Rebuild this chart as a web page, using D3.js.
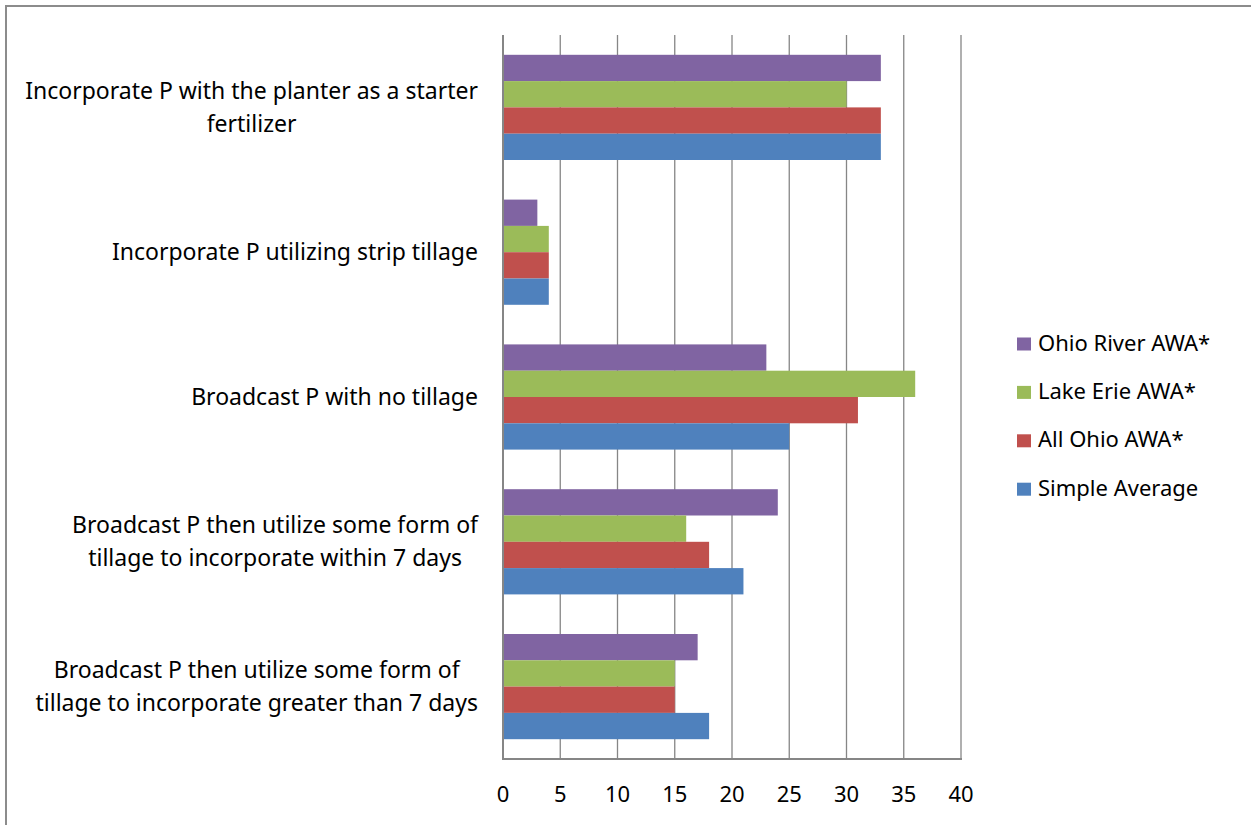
<!DOCTYPE html>
<html>
<head>
<meta charset="utf-8">
<script src="https://cdn.jsdelivr.net/npm/d3@7"></script>
<style>
  html, body { margin: 0; padding: 0; background: #ffffff; }
  svg { display: block; }
</style>
</head>
<body>
<svg id="chart" width="1251" height="825"></svg>
<script>
// categories, top to bottom; each label split into its wrapped lines
const categories = [
  ["Incorporate P with the planter as a starter", "fertilizer"],
  ["Incorporate P utilizing strip tillage"],
  ["Broadcast P with no tillage"],
  ["Broadcast P then utilize some form of", "tillage to incorporate within 7 days"],
  ["Broadcast P then utilize some form of", "tillage to incorporate greater than 7 days"]
];

// series, in the order their bars stack from top to bottom within a category
const seriesNames = ["Ohio River AWA*", "Lake Erie AWA*", "All Ohio AWA*", "Simple Average"];
const seriesColors = ["#8064A2", "#9BBB59", "#C0504D", "#4F81BD"];

const ohioRiver = [33, 3, 23, 24, 17];
const lakeErie = [30, 4, 36, 16, 15];
const allOhio = [33, 4, 31, 18, 15];
const simpleAverage = [33, 4, 25, 21, 18];

const xTicks = [0, 5, 10, 15, 20, 25, 30, 35, 40];

const seriesValues = [ohioRiver, lakeErie, allOhio, simpleAverage];
const FONT = "'Noto Sans', 'Open Sans', sans-serif";

const svg = d3.select("#chart");

// outer chart border (only top and left edges fall inside the picture)
svg.append("rect")
  .attr("x", 6).attr("y", 6)
  .attr("width", 1260).attr("height", 840)
  .attr("fill", "none")
  .attr("stroke", "#8c8c8c")
  .attr("stroke-width", 2);

const plot = { left: 503, right: 961, top: 35, bottom: 759 };

const x = d3.scaleLinear().domain([0, 40]).range([plot.left, plot.right]);

const y = d3.scaleBand()
  .domain(d3.range(categories.length))
  .range([plot.top, plot.bottom])
  .padding(0);

const ySeries = d3.scaleBand()
  .domain(d3.range(seriesNames.length))
  .range([0, y.bandwidth()])
  .paddingInner(0)
  .paddingOuter(0.753);

// vertical gridlines
svg.append("g")
  .selectAll("line")
  .data(xTicks.slice(1))
  .join("line")
  .attr("x1", d => x(d)).attr("x2", d => x(d))
  .attr("y1", plot.top).attr("y2", plot.bottom)
  .attr("stroke", "#868686")
  .attr("stroke-width", 1.3);

// bars
const rows = svg.append("g")
  .selectAll("g")
  .data(categories)
  .join("g")
  .attr("transform", (d, i) => `translate(0,${y(i)})`);

rows.selectAll("rect")
  .data((d, i) => seriesValues.map((vals, s) => ({ s, v: vals[i] })))
  .join("rect")
  .attr("x", x(0))
  .attr("y", d => ySeries(d.s))
  .attr("width", d => x(d.v) - x(0))
  .attr("height", ySeries.bandwidth())
  .attr("fill", d => seriesColors[d.s]);

// axis lines
svg.append("line")
  .attr("x1", plot.left).attr("x2", plot.left)
  .attr("y1", plot.top).attr("y2", plot.bottom)
  .attr("stroke", "#868686")
  .attr("stroke-width", 2);

svg.append("line")
  .attr("x1", plot.left - 1).attr("x2", plot.right + 1)
  .attr("y1", plot.bottom).attr("y2", plot.bottom)
  .attr("stroke", "#868686")
  .attr("stroke-width", 2);

// x tick labels
svg.append("g")
  .selectAll("text")
  .data(xTicks)
  .join("text")
  .attr("x", d => x(d))
  .attr("y", 802)
  .attr("text-anchor", "middle")
  .attr("font-family", FONT)
  .attr("font-size", 22)
  .attr("fill", "#000000")
  .text(d => d);

// category labels: lines centred on each other, block right edge at 478
const labelRight = 478;
const lineGap = 33;
const labels = svg.append("g")
  .attr("font-family", FONT)
  .attr("font-size", 23)
  .attr("fill", "#000000");

categories.forEach((lines, i) => {
  const cy = y(i) + y.bandwidth() / 2;
  const g = labels.append("g");
  const texts = lines.map((line, j) => g.append("text")
    .attr("y", cy + 8 + (j - (lines.length - 1) / 2) * lineGap)
    .attr("text-anchor", "middle")
    .text(line));
  const maxW = d3.max(texts, t => t.node().getComputedTextLength());
  texts.forEach(t => t.attr("x", labelRight - maxW / 2));
});

// legend
const legend = svg.append("g")
  .selectAll("g")
  .data(seriesNames)
  .join("g")
  .attr("transform", (d, i) => `translate(1017,${350.5 + i * 48.4})`);

legend.append("rect")
  .attr("x", 0).attr("y", -13)
  .attr("width", 14).attr("height", 13)
  .attr("fill", (d, i) => seriesColors[i]);

legend.append("text")
  .attr("x", 21)
  .attr("y", 0)
  .attr("font-family", FONT)
  .attr("font-size", 22)
  .attr("fill", "#000000")
  .text(d => d);
</script>
</body>
</html>
